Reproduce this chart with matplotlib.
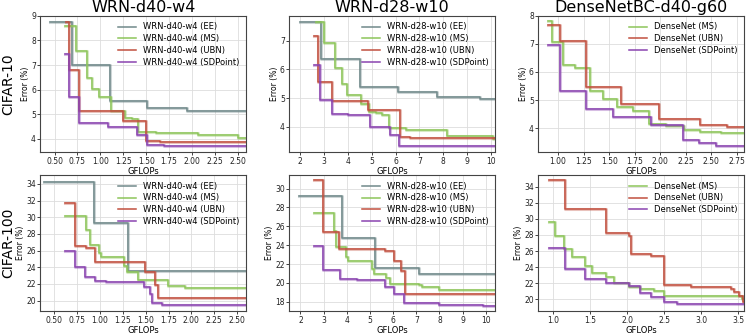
import matplotlib
matplotlib.use("Agg")
import matplotlib.pyplot as plt
from matplotlib.ticker import MultipleLocator, FormatStrFormatter

# colours for each method
colors = {"EE": "#70898a", "MS": "#8dc55a", "UBN": "#c1503f", "SDPoint": "#8a44b0"}

# ---- CIFAR-10, WRN-d40-w4 ----
c10_w40_ee_x = [0.45, 0.69, 1.10, 1.51, 1.94, 2.60]
c10_w40_ee_y = [8.73, 7.00, 5.54, 5.25, 5.15, 5.15]
c10_w40_ms_x = [0.61, 0.73, 0.85, 0.91, 0.98, 1.12, 1.27, 1.34, 1.41, 1.61, 2.06, 2.50, 2.60]
c10_w40_ms_y = [8.57, 7.55, 6.46, 6.02, 5.72, 5.14, 4.83, 4.80, 4.27, 4.22, 4.17, 4.03, 4.03]
c10_w40_ubn_x = [0.62, 0.66, 0.77, 1.25, 1.50, 1.65, 2.60]
c10_w40_ubn_y = [8.75, 6.80, 5.14, 4.72, 3.93, 3.89, 3.89]
c10_w40_sd_x = [0.61, 0.66, 0.77, 1.08, 1.40, 1.51, 1.69, 2.60]
c10_w40_sd_y = [7.45, 5.68, 4.64, 4.47, 4.15, 3.75, 3.72, 3.72]

# ---- CIFAR-10, WRN-d28-w10 ----
c10_w28_ee_x = [2.0, 2.89, 4.50, 6.10, 7.75, 9.55, 10.2]
c10_w28_ee_y = [7.65, 6.35, 5.38, 5.20, 5.04, 4.98, 4.98]
c10_w28_ms_x = [2.65, 3.02, 3.48, 3.74, 3.98, 4.54, 4.89, 5.20, 5.44, 5.71, 6.45, 8.14, 10.1, 10.2]
c10_w28_ms_y = [7.65, 6.93, 6.05, 5.48, 5.10, 4.78, 4.52, 4.48, 4.41, 3.96, 3.88, 3.68, 3.56, 3.56]
c10_w28_ubn_x = [2.6, 2.75, 3.34, 4.84, 6.19, 6.59, 10.2]
c10_w28_ubn_y = [7.15, 5.57, 4.90, 4.60, 3.65, 3.61, 3.61]
c10_w28_sd_x = [2.6, 2.82, 3.34, 4.02, 4.94, 5.76, 6.15, 10.2]
c10_w28_sd_y = [6.17, 4.92, 4.46, 4.41, 4.01, 3.70, 3.34, 3.34]

# ---- CIFAR-10, DenseNetBC-d40-g60 ----
c10_dn_ms_x = [0.90, 0.94, 1.05, 1.17, 1.31, 1.44, 1.58, 1.73, 1.89, 2.06, 2.23, 2.39, 2.59, 2.85]
c10_dn_ms_y = [7.80, 7.08, 6.26, 6.13, 5.33, 5.03, 4.75, 4.60, 4.15, 4.07, 3.93, 3.88, 3.82, 3.82]
c10_dn_ubn_x = [0.90, 1.02, 1.27, 1.62, 1.99, 2.39, 2.65, 2.85]
c10_dn_ubn_y = [7.69, 7.10, 5.47, 4.86, 4.32, 4.10, 4.04, 4.04]
c10_dn_sd_x = [0.90, 1.02, 1.27, 1.54, 1.91, 2.22, 2.38, 2.55, 2.85]
c10_dn_sd_y = [6.96, 5.33, 4.68, 4.40, 4.12, 3.58, 3.47, 3.36, 3.36]

# ---- CIFAR-100, WRN-d40-w4 ----
c100_w40_ee_x = [0.38, 0.93, 1.31, 2.60]
c100_w40_ee_y = [34.27, 29.33, 23.5, 23.5]
c100_w40_ms_x = [0.62, 0.85, 0.89, 0.99, 1.01, 1.26, 1.29, 1.41, 1.74, 1.93, 2.60]
c100_w40_ms_y = [30.18, 28.48, 26.71, 25.70, 25.17, 24.1, 23.4, 22.45, 21.77, 21.5, 21.5]
c100_w40_ubn_x = [0.62, 0.72, 0.85, 0.94, 1.49, 1.60, 1.63, 2.60]
c100_w40_ubn_y = [31.65, 26.55, 26.3, 24.6, 23.4, 21.9, 20.35, 20.35]
c100_w40_sd_x = [0.62, 0.72, 0.83, 0.94, 1.06, 1.48, 1.55, 1.57, 1.68, 2.60]
c100_w40_sd_y = [25.98, 24.05, 22.8, 22.4, 22.25, 21.6, 20.8, 19.7, 19.45, 19.45]

# ---- CIFAR-100, WRN-d28-w10 ----
c100_w28_ee_x = [1.94, 3.79, 5.24, 7.12, 10.5]
c100_w28_ee_y = [29.17, 24.75, 21.55, 20.93, 20.93]
c100_w28_ms_x = [2.6, 3.43, 3.53, 3.95, 4.06, 5.08, 5.18, 5.70, 5.86, 7.10, 7.25, 7.98, 10.5]
c100_w28_ms_y = [27.4, 25.5, 23.83, 22.75, 22.3, 21.47, 20.95, 20.5, 19.9, 19.8, 19.55, 19.25, 19.2]
c100_w28_ubn_x = [2.6, 2.98, 3.67, 5.64, 6.05, 6.35, 6.50, 10.5]
c100_w28_ubn_y = [30.94, 25.35, 23.62, 23.35, 22.3, 21.27, 18.85, 18.85]
c100_w28_sd_x = [2.6, 2.98, 3.70, 4.45, 5.64, 6.05, 6.47, 8.0, 9.9, 10.5]
c100_w28_sd_y = [23.96, 21.36, 20.42, 20.3, 19.58, 18.86, 17.83, 17.67, 17.57, 17.57]

# ---- CIFAR-100, DenseNetBC-d40-g60 ----
c100_dn_ms_x = [0.94, 1.02, 1.15, 1.25, 1.43, 1.53, 1.71, 1.82, 2.03, 2.18, 2.36, 2.50, 3.55, 3.6]
c100_dn_ms_y = [29.6, 27.9, 26.2, 25.27, 24.1, 23.33, 22.8, 22.05, 21.6, 21.33, 21.0, 20.44, 20.1, 20.1]
c100_dn_ubn_x = [0.94, 1.16, 1.72, 2.03, 2.05, 2.33, 2.50, 2.86, 3.40, 3.45, 3.51, 3.56, 3.6]
c100_dn_ubn_y = [34.85, 31.2, 28.28, 27.9, 25.67, 25.39, 21.77, 21.5, 21.25, 20.9, 20.44, 19.7, 19.7]
c100_dn_sd_x = [0.94, 1.16, 1.43, 1.72, 2.03, 2.18, 2.33, 2.50, 2.67, 3.6]
c100_dn_sd_y = [26.33, 23.75, 22.55, 22.0, 21.7, 20.75, 20.33, 19.7, 19.43, 19.43]

titles = ["WRN-d40-w4", "WRN-d28-w10", "DenseNetBC-d40-g60"]
prefixes = ["WRN-d40-w4", "WRN-d28-w10", "DenseNet"]
row_labels = ["CIFAR-10", "CIFAR-100"]

panels = [
    [
        [("EE", c10_w40_ee_x, c10_w40_ee_y), ("MS", c10_w40_ms_x, c10_w40_ms_y),
         ("UBN", c10_w40_ubn_x, c10_w40_ubn_y), ("SDPoint", c10_w40_sd_x, c10_w40_sd_y)],
        [("EE", c10_w28_ee_x, c10_w28_ee_y), ("MS", c10_w28_ms_x, c10_w28_ms_y),
         ("UBN", c10_w28_ubn_x, c10_w28_ubn_y), ("SDPoint", c10_w28_sd_x, c10_w28_sd_y)],
        [("MS", c10_dn_ms_x, c10_dn_ms_y), ("UBN", c10_dn_ubn_x, c10_dn_ubn_y),
         ("SDPoint", c10_dn_sd_x, c10_dn_sd_y)],
    ],
    [
        [("EE", c100_w40_ee_x, c100_w40_ee_y), ("MS", c100_w40_ms_x, c100_w40_ms_y),
         ("UBN", c100_w40_ubn_x, c100_w40_ubn_y), ("SDPoint", c100_w40_sd_x, c100_w40_sd_y)],
        [("EE", c100_w28_ee_x, c100_w28_ee_y), ("MS", c100_w28_ms_x, c100_w28_ms_y),
         ("UBN", c100_w28_ubn_x, c100_w28_ubn_y), ("SDPoint", c100_w28_sd_x, c100_w28_sd_y)],
        [("MS", c100_dn_ms_x, c100_dn_ms_y), ("UBN", c100_dn_ubn_x, c100_dn_ubn_y),
         ("SDPoint", c100_dn_sd_x, c100_dn_sd_y)],
    ],
]

# axis limits and tick steps per panel
xlims = [[(0.345, 2.59), (1.55, 10.17), (0.806, 2.82)],
         [(0.345, 2.60), (1.52, 10.40), (0.80, 3.58)]]
ylims = [[(3.45, 9.0), (3.11, 7.87), (3.14, 8.0)],
         [(18.69, 35.08), (16.96, 31.46), (18.5, 35.46)]]
xsteps = [0.25, 1, 0.25]
xfmts = ["%.2f", "%d", "%.2f"]
ysteps = [1, 2]

fig, axes = plt.subplots(2, 3, figsize=(7.47, 3.36), dpi=100)
fig.subplots_adjust(left=0.054, right=0.996, bottom=0.073, top=0.953,
                    wspace=0.21, hspace=0.165)

for r in range(2):
    for c in range(3):
        ax = axes[r, c]
        for method, xs, ys in panels[r][c]:
            col = colors[method]
            ax.step(xs, ys, where="post", color=col, lw=2.2, alpha=0.35)
            ax.step(xs, ys, where="post", color=col, lw=1.1,
                    label="%s (%s)" % (prefixes[c], method))
        ax.set_xlim(*xlims[r][c])
        ax.set_ylim(*ylims[r][c])
        ax.xaxis.set_major_locator(MultipleLocator(xsteps[c]))
        fmt = xfmts[c]
        if r == 1 and c == 2:
            ax.xaxis.set_major_locator(MultipleLocator(0.5))
            fmt = "%.1f"
        ax.xaxis.set_major_formatter(FormatStrFormatter(fmt))
        ax.yaxis.set_major_locator(MultipleLocator(ysteps[r]))
        ax.grid(True, color="#dddddd", lw=0.6)
        ax.set_axisbelow(True)
        ax.tick_params(labelsize=5.5, length=2, width=0.6, pad=1.2, colors="#222222")
        for s in ax.spines.values():
            s.set_linewidth(0.8)
            s.set_color("#444444")
        ax.set_xlabel("GFLOPs", fontsize=6, labelpad=0.5)
        ax.set_ylabel("Error (%)", fontsize=5.5, labelpad=1)
        ax.legend(loc="upper right", frameon=False, fontsize=6,
                  handlelength=2.2, labelspacing=0.35, borderaxespad=0.4)
        if r == 0:
            pos = ax.get_position()
            fig.text((pos.x0 + pos.x1) / 2, 0.999, titles[c], fontsize=11.5,
                     ha="center", va="top")

for r, lab in enumerate(row_labels):
    pos = axes[r, 0].get_position()
    fig.text(0.0108, (pos.y0 + pos.y1) / 2, lab, rotation=90, fontsize=10,
             ha="center", va="center")

fig.savefig("out.png", dpi=100)
